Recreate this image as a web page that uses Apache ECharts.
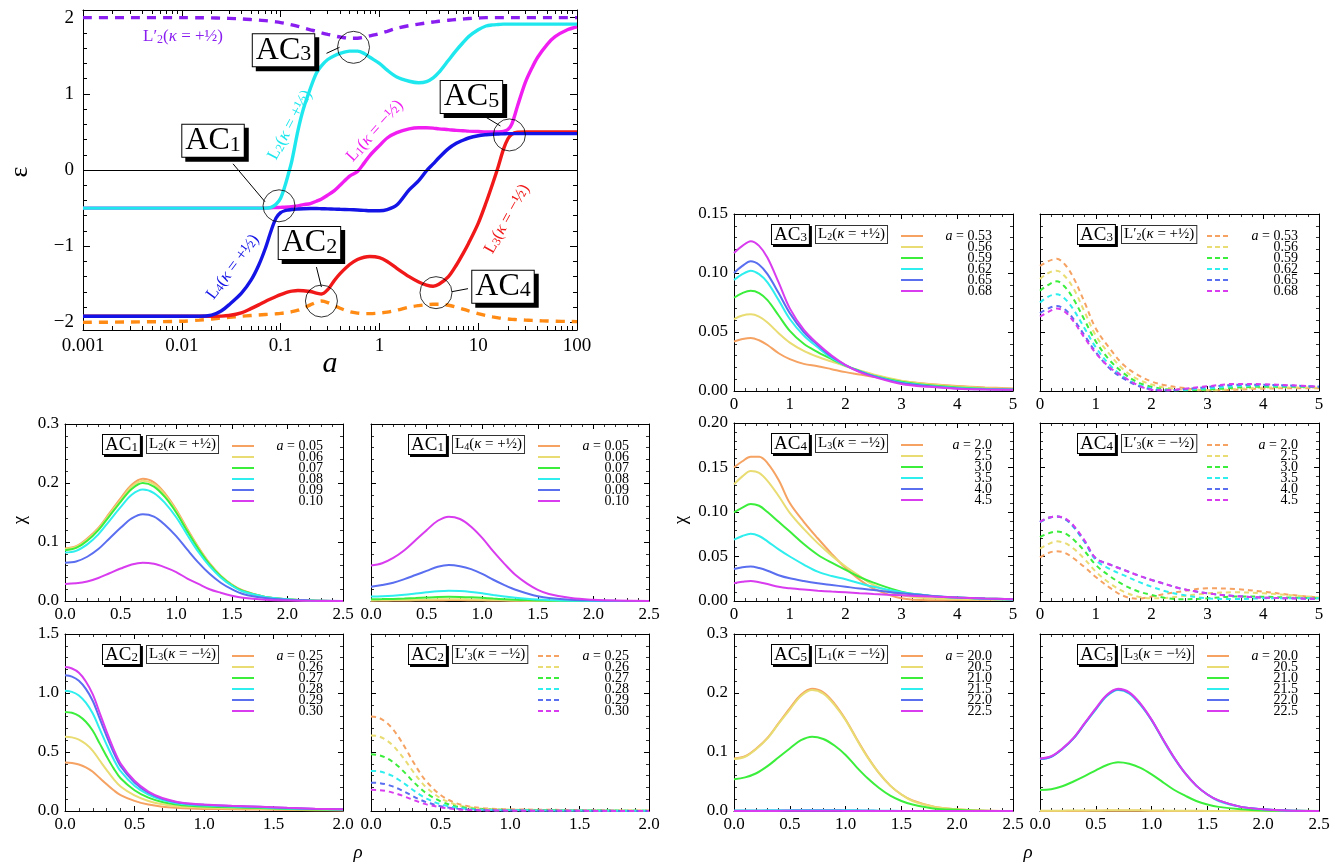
<!DOCTYPE html>
<html><head><meta charset="utf-8">
<script src="https://cdn.jsdelivr.net/npm/echarts@6/dist/echarts.min.js"></script>
<style>html,body{margin:0;padding:0;background:#fff}#c{width:1343px;height:863px}</style>
</head><body><div id="c"></div>
<script>
const SERIF = "'Liberation Serif','DejaVu Serif','Times New Roman',serif";

// ---------------- main plot data ----------------
const A_VALUES = [0.001,0.003,0.01,0.015,0.02,0.025,0.03,0.04,0.05,0.06,0.07,0.08,0.09,0.1,0.11,0.12,0.13,0.15,0.17,0.2,0.23,0.26,0.3,0.35,0.4,0.5,0.6,0.7,0.8,1.0,1.2,1.5,2,2.5,3,3.5,4,5,6,7,8,10,12,14,16,18,20,22,25,30,35,40,50,60,80,100];
const EPS_L2 = [-0.5,-0.5,-0.5,-0.5,-0.5,-0.5,-0.5,-0.5,-0.5,-0.5,-0.5,-0.49,-0.45,-0.37,-0.22,-0.05,0.12,0.52,0.80,1.07,1.27,1.37,1.45,1.50,1.53,1.56,1.56,1.53,1.48,1.40,1.31,1.22,1.165,1.145,1.16,1.21,1.28,1.44,1.57,1.67,1.75,1.84,1.89,1.905,1.91,1.915,1.915,1.915,1.915,1.915,1.915,1.915,1.915,1.915,1.915,1.915];
const EPS_L1 = [-0.5,-0.5,-0.5,-0.5,-0.5,-0.5,-0.5,-0.5,-0.5,-0.5,-0.5,-0.495,-0.493,-0.49,-0.488,-0.485,-0.48,-0.47,-0.455,-0.44,-0.41,-0.38,-0.33,-0.27,-0.2,-0.08,-0.02,0.09,0.19,0.32,0.42,0.49,0.54,0.555,0.555,0.55,0.54,0.53,0.52,0.515,0.51,0.505,0.50,0.50,0.50,0.505,0.53,0.61,0.84,1.15,1.34,1.48,1.65,1.75,1.84,1.88];
const EPS_L4 = [-1.92,-1.92,-1.92,-1.92,-1.905,-1.85,-1.77,-1.62,-1.45,-1.25,-1.03,-0.80,-0.63,-0.56,-0.535,-0.525,-0.518,-0.512,-0.508,-0.506,-0.506,-0.508,-0.51,-0.513,-0.516,-0.52,-0.525,-0.53,-0.535,-0.535,-0.52,-0.46,-0.26,-0.14,-0.01,0.08,0.16,0.28,0.35,0.39,0.42,0.45,0.463,0.47,0.473,0.475,0.478,0.478,0.478,0.478,0.478,0.478,0.478,0.478,0.478,0.478];
const EPS_L3 = [-1.92,-1.92,-1.92,-1.92,-1.92,-1.918,-1.91,-1.875,-1.82,-1.77,-1.725,-1.69,-1.66,-1.635,-1.615,-1.60,-1.59,-1.582,-1.585,-1.595,-1.615,-1.628,-1.57,-1.45,-1.36,-1.24,-1.175,-1.145,-1.135,-1.15,-1.20,-1.29,-1.40,-1.47,-1.51,-1.525,-1.50,-1.40,-1.25,-1.10,-0.96,-0.70,-0.43,-0.18,0.05,0.27,0.41,0.47,0.495,0.50,0.50,0.50,0.50,0.50,0.50,0.50];
const EPS_L3P = [-2.0,-1.995,-1.985,-1.97,-1.955,-1.942,-1.933,-1.92,-1.91,-1.903,-1.897,-1.892,-1.887,-1.882,-1.876,-1.868,-1.86,-1.84,-1.815,-1.77,-1.735,-1.72,-1.74,-1.78,-1.815,-1.86,-1.878,-1.885,-1.885,-1.877,-1.865,-1.84,-1.80,-1.78,-1.768,-1.762,-1.762,-1.775,-1.80,-1.825,-1.848,-1.885,-1.91,-1.928,-1.94,-1.948,-1.955,-1.96,-1.965,-1.97,-1.974,-1.977,-1.982,-1.985,-1.988,-1.99];
const EPS_L2P = [2.0,2.0,2.0,1.998,1.996,1.993,1.99,1.983,1.975,1.968,1.96,1.952,1.944,1.935,1.925,1.915,1.905,1.885,1.865,1.84,1.82,1.80,1.78,1.76,1.745,1.73,1.73,1.742,1.76,1.79,1.82,1.86,1.895,1.915,1.93,1.942,1.952,1.965,1.975,1.982,1.988,1.995,2.0,2.0,2.0,2.0,2.0,2.0,2.0,2.0,2.0,2.0,2.0,2.0,2.0,2.0];
const MAIN_X_TICKS = [0.001,0.01,0.1,1,10,100];
const MAIN_X_LABELS = ['0.001','0.01','0.1','1','10','100'];
const MAIN_Y_TICKS = [-2,-1,0,1,2];
const MAIN_Y_LABELS = ['\u22122','\u22121','0','1','2'];
const AC_NAMES = ['1','2','3','4','5'];
const AC_POINTS = [[0.0964,-0.47],[0.259,-1.72],[0.547,1.61],[3.74,-1.61],[20.7,0.46]];

// ---------------- panel data ----------------
const RHO_A = [0,0.1,0.2,0.3,0.4,0.5,0.6,0.7,0.8,0.9,1.0,1.1,1.2,1.3,1.4,1.5,1.6,1.8,2.0,2.2,2.5];
const RHO_C = [0,0.05,0.1,0.15,0.2,0.25,0.3,0.35,0.4,0.5,0.6,0.7,0.8,0.9,1.0,1.2,1.4,1.6,1.8,2.0];
const RHO_E = [0,0.15,0.3,0.45,0.6,0.8,1.0,1.25,1.5,1.75,2.0,2.25,2.5,3.0,3.5,4.0,4.5,5.0];

const A_AC1 = ['0.05','0.06','0.07','0.08','0.09','0.10'];
const A_AC2 = ['0.25','0.26','0.27','0.28','0.29','0.30'];
const A_AC3 = ['0.53','0.56','0.59','0.62','0.65','0.68'];
const A_AC4 = ['2.0','2.5','3.0','3.5','4.0','4.5'];
const A_AC5 = ['20.0','20.5','21.0','21.5','22.0','22.5'];

const CHI_AC1_L2 = [
 [0.089,0.093,0.106,0.124,0.149,0.174,0.197,0.207,0.201,0.182,0.155,0.122,0.091,0.064,0.043,0.028,0.018,0.007,0.003,0.001,0.0002],
 [0.088,0.092,0.104,0.122,0.147,0.171,0.194,0.204,0.198,0.180,0.153,0.120,0.090,0.063,0.043,0.028,0.017,0.007,0.003,0.001,0.0002],
 [0.086,0.090,0.102,0.120,0.144,0.168,0.190,0.200,0.194,0.176,0.150,0.118,0.088,0.062,0.042,0.027,0.017,0.007,0.003,0.001,0.0002],
 [0.082,0.085,0.096,0.113,0.136,0.159,0.180,0.189,0.183,0.166,0.142,0.112,0.083,0.059,0.040,0.026,0.016,0.007,0.003,0.001,0.0002],
 [0.065,0.067,0.075,0.088,0.106,0.124,0.140,0.147,0.143,0.129,0.110,0.087,0.065,0.046,0.031,0.020,0.012,0.005,0.002,0.001,0.0001],
 [0.029,0.030,0.033,0.039,0.047,0.055,0.062,0.065,0.063,0.057,0.049,0.038,0.029,0.020,0.014,0.009,0.0055,0.0023,0.0009,0.0003,0.0001]
];
const CHI_AC1_L4 = [
 [0.0006,0.0007,0.0008,0.0009,0.0011,0.0013,0.0014,0.0015,0.0015,0.0013,0.0011,0.0009,0.0007,0.0005,0.0003,0.0002,0.0001,0.0001,0,0,0],
 [0.0013,0.0014,0.0015,0.0018,0.0022,0.0025,0.0029,0.003,0.0029,0.0026,0.0023,0.0018,0.0013,0.0009,0.0006,0.0004,0.0003,0.0001,0,0,0],
 [0.003,0.0032,0.0036,0.0042,0.005,0.0059,0.0067,0.007,0.0068,0.0062,0.0053,0.0041,0.0031,0.0022,0.0015,0.0009,0.0006,0.0002,0.0001,0,0],
 [0.0075,0.0079,0.0089,0.0105,0.0126,0.0147,0.0166,0.0175,0.0170,0.0154,0.0131,0.0103,0.0077,0.0054,0.0037,0.0024,0.0015,0.0006,0.0002,0.0001,0],
 [0.024,0.027,0.031,0.037,0.044,0.051,0.058,0.061,0.059,0.054,0.046,0.036,0.027,0.019,0.013,0.008,0.005,0.002,0.0009,0.0003,0],
 [0.060,0.064,0.073,0.086,0.103,0.120,0.136,0.143,0.139,0.126,0.107,0.084,0.063,0.044,0.030,0.019,0.012,0.005,0.002,0.0007,0.0001]
];
const CHI_AC2_L3 = [
 [0.410,0.406,0.394,0.369,0.332,0.279,0.226,0.176,0.135,0.086,0.055,0.037,0.027,0.021,0.018,0.015,0.012,0.009,0.007,0.005],
 [0.630,0.624,0.605,0.567,0.510,0.428,0.347,0.271,0.208,0.132,0.085,0.057,0.041,0.033,0.028,0.023,0.019,0.014,0.010,0.008],
 [0.840,0.832,0.806,0.756,0.680,0.571,0.462,0.361,0.277,0.176,0.113,0.076,0.055,0.044,0.038,0.031,0.025,0.018,0.013,0.010],
 [1.020,1.010,0.979,0.918,0.826,0.694,0.561,0.439,0.337,0.214,0.138,0.092,0.066,0.053,0.046,0.038,0.031,0.022,0.016,0.012],
 [1.150,1.139,1.104,1.035,0.932,0.782,0.633,0.495,0.380,0.242,0.155,0.104,0.075,0.060,0.052,0.043,0.035,0.025,0.018,0.014],
 [1.220,1.208,1.171,1.098,0.988,0.830,0.671,0.525,0.403,0.256,0.165,0.110,0.079,0.063,0.055,0.045,0.037,0.027,0.020,0.015]
];
const CHI_AC2_L3P = [
 [0.800,0.792,0.760,0.704,0.624,0.528,0.424,0.328,0.248,0.136,0.072,0.040,0.024,0.018,0.014,0.011,0.009,0.006,0.005,0.004],
 [0.640,0.634,0.608,0.563,0.499,0.422,0.339,0.262,0.198,0.109,0.058,0.032,0.019,0.014,0.012,0.009,0.007,0.005,0.004,0.003],
 [0.480,0.475,0.456,0.422,0.374,0.317,0.254,0.197,0.149,0.082,0.043,0.024,0.014,0.011,0.009,0.007,0.005,0.004,0.003,0.002],
 [0.340,0.337,0.323,0.299,0.265,0.224,0.180,0.139,0.105,0.058,0.031,0.017,0.010,0.007,0.006,0.005,0.004,0.003,0.002,0.002],
 [0.240,0.238,0.228,0.211,0.187,0.158,0.127,0.098,0.074,0.041,0.022,0.012,0.007,0.005,0.004,0.003,0.003,0.002,0.001,0.001],
 [0.180,0.178,0.171,0.158,0.140,0.119,0.095,0.074,0.056,0.031,0.016,0.009,0.005,0.004,0.003,0.003,0.002,0.001,0.001,0.001]
];
const CHI_AC3_L2 = [
 [0.042,0.044,0.045,0.043,0.039,0.032,0.027,0.023,0.021,0.0185,0.016,0.014,0.012,0.0085,0.006,0.0042,0.003,0.0022],
 [0.061,0.064,0.065,0.063,0.058,0.049,0.041,0.034,0.029,0.025,0.021,0.0175,0.014,0.0088,0.0057,0.0038,0.0026,0.002],
 [0.079,0.083,0.085,0.083,0.077,0.064,0.051,0.040,0.033,0.027,0.0215,0.017,0.013,0.0078,0.0048,0.003,0.002,0.0015],
 [0.094,0.099,0.102,0.099,0.092,0.077,0.061,0.047,0.037,0.028,0.0215,0.0168,0.0128,0.0072,0.0043,0.0026,0.0018,0.0013],
 [0.100,0.106,0.110,0.107,0.099,0.083,0.066,0.050,0.039,0.029,0.022,0.0165,0.0125,0.0067,0.004,0.0022,0.0014,0.001],
 [0.117,0.123,0.127,0.123,0.113,0.092,0.070,0.052,0.040,0.030,0.022,0.016,0.012,0.006,0.0035,0.002,0.0013,0.001]
];
const CHI_AC3_L2P = [
 [0.106,0.110,0.112,0.107,0.096,0.075,0.053,0.036,0.022,0.0136,0.008,0.0048,0.003,0.0006,0.0011,0.002,0.0023,0.0023],
 [0.095,0.100,0.102,0.097,0.087,0.067,0.047,0.031,0.018,0.010,0.0055,0.0028,0.0014,0.0006,0.0018,0.0028,0.003,0.0028],
 [0.085,0.090,0.093,0.088,0.078,0.060,0.042,0.026,0.015,0.0075,0.0036,0.0014,0.0006,0.0012,0.0028,0.0036,0.0036,0.0032],
 [0.075,0.080,0.082,0.078,0.069,0.053,0.037,0.022,0.012,0.0055,0.0022,0.0006,0.0008,0.0022,0.0042,0.0046,0.0042,0.0035],
 [0.066,0.070,0.072,0.069,0.061,0.047,0.033,0.019,0.0105,0.0045,0.0013,0.0006,0.0012,0.0034,0.0052,0.0052,0.0046,0.0037],
 [0.063,0.067,0.070,0.067,0.059,0.045,0.032,0.020,0.012,0.005,0.001,0.0006,0.0015,0.004,0.006,0.0057,0.0048,0.0037]
];
const CHI_AC4_L3 = [
 [0.150,0.157,0.162,0.162,0.155,0.136,0.110,0.089,0.0705,0.053,0.037,0.024,0.014,0.003,0.0008,0.001,0.0013,0.0015],
 [0.131,0.140,0.146,0.144,0.135,0.118,0.099,0.081,0.065,0.051,0.0387,0.028,0.018,0.0068,0.003,0.0019,0.0017,0.0017],
 [0.0995,0.105,0.109,0.107,0.100,0.089,0.078,0.064,0.052,0.043,0.035,0.027,0.0206,0.0105,0.006,0.0038,0.0027,0.002],
 [0.069,0.073,0.0755,0.073,0.067,0.058,0.050,0.041,0.033,0.028,0.0244,0.020,0.016,0.0098,0.006,0.0038,0.0024,0.0015],
 [0.036,0.038,0.0387,0.037,0.034,0.029,0.0255,0.0225,0.020,0.018,0.016,0.014,0.0124,0.0086,0.006,0.004,0.0028,0.002],
 [0.020,0.0215,0.0225,0.021,0.019,0.016,0.0143,0.0128,0.0116,0.0106,0.0098,0.0088,0.0079,0.0064,0.005,0.0038,0.0028,0.002]
];
const CHI_AC4_L3P = [
 [0.049,0.054,0.056,0.054,0.048,0.038,0.027,0.015,0.0056,0.0025,0.005,0.008,0.0105,0.0143,0.0135,0.0105,0.0068,0.004],
 [0.059,0.064,0.067,0.065,0.059,0.047,0.033,0.020,0.0105,0.005,0.003,0.0035,0.005,0.0086,0.0098,0.0086,0.0065,0.004],
 [0.0717,0.076,0.078,0.076,0.069,0.056,0.0405,0.028,0.018,0.011,0.0068,0.0035,0.0019,0.003,0.005,0.0048,0.0038,0.003],
 [0.0885,0.093,0.095,0.092,0.083,0.066,0.046,0.036,0.029,0.022,0.016,0.011,0.0075,0.003,0.0022,0.003,0.003,0.003],
 [0.089,0.0935,0.095,0.092,0.084,0.067,0.048,0.041,0.035,0.029,0.0236,0.019,0.0143,0.0086,0.0056,0.0038,0.003,0.0023],
 [0.089,0.0935,0.095,0.093,0.085,0.068,0.048,0.041,0.035,0.029,0.0236,0.019,0.0143,0.0086,0.0056,0.0038,0.003,0.0023]
];
const CHI_AC5_L1 = [
 [0.089,0.093,0.106,0.124,0.149,0.174,0.197,0.207,0.201,0.182,0.155,0.122,0.091,0.064,0.043,0.028,0.018,0.007,0.003,0.001,0.0002],
 [0.088,0.092,0.105,0.123,0.148,0.172,0.195,0.205,0.199,0.180,0.154,0.121,0.090,0.064,0.043,0.028,0.017,0.007,0.003,0.001,0.0002],
 [0.054,0.057,0.064,0.076,0.091,0.106,0.120,0.126,0.122,0.111,0.095,0.074,0.055,0.039,0.026,0.017,0.011,0.004,0.002,0.0006,0.0001],
 [0.0008,0.0008,0.0009,0.0011,0.0013,0.0015,0.0017,0.0018,0.0017,0.0016,0.0014,0.0011,0.0008,0.0006,0.0004,0.0002,0.0002,0.0001,0,0,0],
 [0.0003,0.0003,0.0003,0.0004,0.0004,0.0005,0.0006,0.0006,0.0006,0.0005,0.0005,0.0004,0.0003,0.0002,0.0001,0.0001,0,0,0,0,0],
 [0.0001,0.0001,0.0002,0.0002,0.0002,0.0003,0.0003,0.0003,0.0003,0.0003,0.0002,0.0002,0.0001,0.0001,0.0001,0,0,0,0,0,0]
];
const CHI_AC5_L3 = [
 [0.0001,0.0001,0.0002,0.0002,0.0002,0.0003,0.0003,0.0003,0.0003,0.0003,0.0002,0.0002,0.0001,0.0001,0.0001,0,0,0,0,0,0],
 [0.0005,0.0005,0.0006,0.0007,0.0009,0.001,0.0011,0.0012,0.0012,0.0011,0.0009,0.0007,0.0005,0.0004,0.0003,0.0002,0.0001,0,0,0,0],
 [0.0356,0.037,0.042,0.050,0.059,0.069,0.078,0.0825,0.080,0.073,0.062,0.049,0.036,0.026,0.017,0.011,0.007,0.003,0.001,0.0004,0.0001],
 [0.088,0.092,0.105,0.123,0.148,0.172,0.195,0.205,0.199,0.180,0.154,0.121,0.090,0.064,0.043,0.028,0.017,0.007,0.003,0.001,0.0002],
 [0.088,0.092,0.105,0.123,0.148,0.173,0.196,0.206,0.200,0.181,0.154,0.122,0.091,0.064,0.043,0.028,0.018,0.007,0.003,0.001,0.0002],
 [0.089,0.093,0.106,0.124,0.149,0.174,0.197,0.207,0.201,0.182,0.155,0.122,0.091,0.064,0.043,0.028,0.018,0.007,0.003,0.001,0.0002]
];

// ---------------- styling / layout ----------------
const PAL = ['#f5a262','#e8dc72','#3cee3c','#2eeeee','#5a6ef0','#d83cee'];
const MAIN_COL = {L1:'#f01ef0', L2:'#1ee8ee', L3:'#f01818', L4:'#1414e6', L2P:'#8a1ef0', L3P:'#ff8a14'};
const GRIDS = [
 {left:83, top:10, width:494, height:320},
 {left:65, top:424, width:278, height:177},
 {left:371, top:424, width:278, height:177},
 {left:65, top:634, width:278, height:177},
 {left:371, top:634, width:278, height:177},
 {left:734, top:214, width:279, height:177},
 {left:1040, top:214, width:279, height:177},
 {left:734, top:423, width:279, height:178},
 {left:1040, top:423, width:279, height:178},
 {left:734, top:634, width:279, height:177},
 {left:1040, top:634, width:279, height:177}
];
const PANELS = [
 {g:1, rho:RHO_A, chi:CHI_AC1_L2, al:A_AC1, ac:'1', L:'L', sub:'2', sign:'+', dashed:false, xmax:2.5, xint:0.5, xdec:1, ymax:0.3, yint:0.1, ydec:1, ylab:true},
 {g:2, rho:RHO_A, chi:CHI_AC1_L4, al:A_AC1, ac:'1', L:'L', sub:'4', sign:'+', dashed:false, xmax:2.5, xint:0.5, xdec:1, ymax:0.3, yint:0.1, ydec:1, ylab:false},
 {g:3, rho:RHO_C, chi:CHI_AC2_L3, al:A_AC2, ac:'2', L:'L', sub:'3', sign:'\u2212', dashed:false, xmax:2.0, xint:0.5, xdec:1, ymax:1.5, yint:0.5, ydec:1, ylab:true},
 {g:4, rho:RHO_C, chi:CHI_AC2_L3P, al:A_AC2, ac:'2', L:'L\u2032', sub:'3', sign:'\u2212', dashed:true, xmax:2.0, xint:0.5, xdec:1, ymax:1.5, yint:0.5, ydec:1, ylab:false},
 {g:5, rho:RHO_E, chi:CHI_AC3_L2, al:A_AC3, ac:'3', L:'L', sub:'2', sign:'+', dashed:false, xmax:5, xint:1, xdec:0, ymax:0.15, yint:0.05, ydec:2, ylab:true},
 {g:6, rho:RHO_E, chi:CHI_AC3_L2P, al:A_AC3, ac:'3', L:'L\u2032', sub:'2', sign:'+', dashed:true, xmax:5, xint:1, xdec:0, ymax:0.15, yint:0.05, ydec:2, ylab:false},
 {g:7, rho:RHO_E, chi:CHI_AC4_L3, al:A_AC4, ac:'4', L:'L', sub:'3', sign:'\u2212', dashed:false, xmax:5, xint:1, xdec:0, ymax:0.2, yint:0.05, ydec:2, ylab:true},
 {g:8, rho:RHO_E, chi:CHI_AC4_L3P, al:A_AC4, ac:'4', L:'L\u2032', sub:'3', sign:'\u2212', dashed:true, xmax:5, xint:1, xdec:0, ymax:0.2, yint:0.05, ydec:2, ylab:false},
 {g:9, rho:RHO_A, chi:CHI_AC5_L1, al:A_AC5, ac:'5', L:'L', sub:'1', sign:'\u2212', dashed:false, xmax:2.5, xint:0.5, xdec:1, ymax:0.3, yint:0.1, ydec:1, ylab:true},
 {g:10, rho:RHO_A, chi:CHI_AC5_L3, al:A_AC5, ac:'5', L:'L', sub:'3', sign:'\u2212', dashed:false, xmax:2.5, xint:0.5, xdec:1, ymax:0.3, yint:0.1, ydec:1, ylab:false}
];

const AXLINE = {show:true, onZero:false, lineStyle:{color:'#000', width:1}};
const NOLINE = {show:false, onZero:false};
const xAxes = [], yAxes = [], series = [];

// main axes (log x)
const MINOR_X = [];
for (let e = -3; e < 2; e++) for (let k = 2; k <= 9; k++) MINOR_X.push(+(k * Math.pow(10, e)).toPrecision(3));
const MINOR_Y = [];
for (let v = -2; v < 2; v += 1) for (let k = 1; k <= 4; k++) MINOR_Y.push(+(v + 0.2 * k).toFixed(1));

function logX(pos, labels, ticks, len) {
  return {type:'log', logBase:10, gridIndex:0, min:0.001, max:100, position:pos,
    axisLine: ticks === MAIN_X_TICKS ? AXLINE : NOLINE,
    axisTick:{show:true, inside:true, length:len, customValues:ticks, lineStyle:{color:'#000', width:1}},
    minorTick:{show:false}, splitLine:{show:false},
    axisLabel:{show:labels, customValues:MAIN_X_TICKS, margin:7, fontSize:19, fontFamily:SERIF, color:'#000',
      formatter: v => MAIN_X_LABELS[Math.round(Math.log10(v)) + 3]}};
}
function linY(pos, labels, ticks, len) {
  return {type:'value', gridIndex:0, min:-2.1, max:2.1, position:pos,
    axisLine: ticks === MAIN_Y_TICKS ? AXLINE : NOLINE,
    axisTick:{show:true, inside:true, length:len, customValues:ticks, lineStyle:{color:'#000', width:1}},
    minorTick:{show:false}, splitLine:{show:false},
    axisLabel:{show:labels, customValues:MAIN_Y_TICKS, margin:9, fontSize:19, fontFamily:SERIF, color:'#000',
      formatter: v => MAIN_Y_LABELS[Math.round(v) + 2]}};
}
xAxes.push(logX('bottom', true, MAIN_X_TICKS, 7), logX('top', false, MAIN_X_TICKS, 7), logX('bottom', false, MINOR_X, 4), logX('top', false, MINOR_X, 4));
yAxes.push(linY('left', true, MAIN_Y_TICKS, 7), linY('right', false, MAIN_Y_TICKS, 7), linY('left', false, MINOR_Y, 4), linY('right', false, MINOR_Y, 4));

function panelAxis(gi, pos, max, interval, dec, labels) {
  return {type:'value', gridIndex:gi, min:0, max:max, interval:interval, position:pos,
    axisLine:AXLINE,
    axisTick:{show:true, inside:true, length:5, lineStyle:{color:'#000', width:1}},
    minorTick:{show:true, splitNumber:5, length:3, lineStyle:{color:'#000', width:0.8}},
    splitLine:{show:false}, minorSplitLine:{show:false},
    axisLabel:{show:labels, showMinLabel:true, showMaxLabel:true, margin:(pos==='bottom'?5:6), fontSize:17, fontFamily:SERIF, color:'#000',
      formatter: v => v.toFixed(dec)}};
}
const panelAxisIdx = [];
PANELS.forEach(p => {
  panelAxisIdx.push([xAxes.length, yAxes.length]);
  xAxes.push(panelAxis(p.g, 'bottom', p.xmax, p.xint, p.xdec, true), panelAxis(p.g, 'top', p.xmax, p.xint, p.xdec, false));
  yAxes.push(panelAxis(p.g, 'left', p.ymax, p.yint, p.ydec, p.ylab), panelAxis(p.g, 'right', p.ymax, p.yint, p.ydec, false));
});

// main series
function mainLine(name, vals, color, dashed, extra) {
  return Object.assign({type:'line', name, xAxisIndex:0, yAxisIndex:0, silent:true, animation:false,
    data: A_VALUES.map((a, i) => [a, vals[i]]), smooth:0.3, symbol:'none',
    lineStyle:{color, width:3.4, type: dashed ? [9, 7] : 'solid', cap:'butt'}}, extra || {});
}
series.push(mainLine('L3p', EPS_L3P, MAIN_COL.L3P, true, {markLine:{silent:true, symbol:'none', animation:false,
  label:{show:false}, lineStyle:{color:'#000', width:1.2, type:'solid'}, data:[{yAxis:0}]}}));
series.push(mainLine('L2p', EPS_L2P, MAIN_COL.L2P, true));
series.push(mainLine('L1', EPS_L1, MAIN_COL.L1, false));
series.push(mainLine('L2', EPS_L2, MAIN_COL.L2, false));
series.push(mainLine('L3', EPS_L3, MAIN_COL.L3, false));
series.push(mainLine('L4', EPS_L4, MAIN_COL.L4, false));
series.push({type:'scatter', xAxisIndex:0, yAxisIndex:0, silent:true, animation:false, symbol:'circle', symbolSize:32,
  data: AC_POINTS, itemStyle:{color:'rgba(0,0,0,0)', borderColor:'#000', borderWidth:1}, z:5});

// panel series
PANELS.forEach((p, k) => {
  p.chi.forEach((vals, j) => {
    series.push({type:'line', xAxisIndex:panelAxisIdx[k][0], yAxisIndex:panelAxisIdx[k][1], silent:true, animation:false,
      data: p.rho.map((r, i) => [r, vals[i]]), smooth:0.35, symbol:'none', clip:true,
      lineStyle:{color:PAL[j], width:2, type: p.dashed ? [5, 4] : 'solid'}});
  });
});

const chart = echarts.init(document.getElementById('c'));
chart.setOption({animation:false, backgroundColor:'#fff', grid:GRIDS, xAxis:xAxes, yAxis:yAxes, series});

// ---------------- annotations (graphic) ----------------
const G = [];
const AC_BOX = [[-66,-65],[-12,-58],[-70,3],[67,-6],[-38,-38]];
const AC_LEAD = [[-46,-42,-14,-4],[-5,-34,0,-14],[-27,6,-14,0],[32,-4,16,-1],[-24,-18,-9,-9]];
AC_POINTS.forEach((pt, i) => {
  const c = chart.convertToPixel({gridIndex:0}, pt);
  const L = AC_LEAD[i];
  G.push({type:'line', silent:true, z:50, shape:{x1:c[0]+L[0], y1:c[1]+L[1], x2:c[0]+L[2], y2:c[1]+L[3]}, style:{stroke:'#000', lineWidth:1}});
  G.push({type:'text', silent:true, z:60, x:c[0]+AC_BOX[i][0], y:c[1]+AC_BOX[i][1],
    style:{text:'{m|AC}{s|' + AC_NAMES[i] + '}', align:'center', verticalAlign:'middle',
      rich:{m:{fontSize:32, fontFamily:SERIF, fill:'#000', lineHeight:30}, s:{fontSize:22, fontFamily:SERIF, fill:'#000', verticalAlign:'bottom', lineHeight:12}},
      backgroundColor:'#fff', borderColor:'#000', borderWidth:1, padding:[1,3,1,3],
      shadowColor:'#000', shadowOffsetX:4, shadowOffsetY:4, shadowBlur:0}});
});
function kappaLabel(Lstr, sub, sign, color, size) {
  return {text:'{n|' + Lstr + '}{s|' + sub + '}{n|(}{i|\u03ba}{n| = ' + sign + '\u00bd)}',
    rich:{n:{fontSize:size, fontFamily:SERIF, fill:color}, i:{fontSize:size, fontFamily:SERIF, fontStyle:'italic', fill:color},
      s:{fontSize:Math.round(size*0.68), fontFamily:SERIF, fill:color, verticalAlign:'bottom', lineHeight:Math.round(size*0.55)}}};
}
const CURVE_LABELS = [
 {L:'L\u2032', sub:'2', sign:'+', col:MAIN_COL.L2P, x:183, y:37, rot:0},
 {L:'L', sub:'2', sign:'+', col:MAIN_COL.L2, x:290, y:125, rot:62},
 {L:'L', sub:'1', sign:'\u2212', col:MAIN_COL.L1, x:375, y:131, rot:48},
 {L:'L', sub:'4', sign:'+', col:MAIN_COL.L4, x:233, y:267, rot:53},
 {L:'L', sub:'3', sign:'\u2212', col:MAIN_COL.L3, x:507, y:219, rot:61}
];
CURVE_LABELS.forEach(c => {
  G.push({type:'text', silent:true, z:40, x:c.x, y:c.y, rotation:c.rot*Math.PI/180,
    style:Object.assign(kappaLabel(c.L, c.sub, c.sign, c.col, 17), {align:'center', verticalAlign:'middle'})});
});
// axis names
G.push({type:'text', silent:true, x:330, y:364, style:{text:'a', font:'italic 30px ' + SERIF, fill:'#000', align:'center', verticalAlign:'middle'}});
G.push({type:'text', silent:true, x:20, y:172, rotation:Math.PI/2, style:{text:'\u03b5', font:'26px ' + SERIF, fill:'#000', align:'center', verticalAlign:'middle'}});
G.push({type:'text', silent:true, x:20, y:520, rotation:Math.PI/2, style:{text:'\u03c7', font:'19px ' + SERIF, fill:'#000', align:'center', verticalAlign:'middle'}});
G.push({type:'text', silent:true, x:681, y:520, rotation:Math.PI/2, style:{text:'\u03c7', font:'19px ' + SERIF, fill:'#000', align:'center', verticalAlign:'middle'}});
G.push({type:'text', silent:true, x:358, y:853, style:{text:'\u03c1', font:'italic 19px ' + SERIF, fill:'#000', align:'center', verticalAlign:'middle'}});
G.push({type:'text', silent:true, x:1028, y:853, style:{text:'\u03c1', font:'italic 19px ' + SERIF, fill:'#000', align:'center', verticalAlign:'middle'}});

// panel annotations + legends
PANELS.forEach(p => {
  const gr = GRIDS[p.g];
  const L0 = gr.left, T0 = gr.top;
  G.push({type:'text', silent:true, z:60, x:L0+38, y:T0+11,
    style:{text:'{m|AC}{s|' + p.ac + '}', align:'left', verticalAlign:'top',
      rich:{m:{fontSize:19, fontFamily:SERIF, fill:'#000', lineHeight:18}, s:{fontSize:13, fontFamily:SERIF, fill:'#000', verticalAlign:'bottom', lineHeight:8}},
      backgroundColor:'#fff', borderColor:'#000', borderWidth:1, padding:[1,2,0,2],
      shadowColor:'#000', shadowOffsetX:2, shadowOffsetY:2, shadowBlur:0}});
  G.push({type:'text', silent:true, z:60, x:L0+82, y:T0+12,
    style:Object.assign(kappaLabel(p.L, p.sub, p.sign, '#000', 15), {align:'left', verticalAlign:'top',
      backgroundColor:'#fff', borderColor:'#333', borderWidth:1, padding:[1,2,1,2]})});
  p.al.forEach((lab, j) => {
    const yy = T0 + 22 + 11 * j;
    G.push({type:'line', silent:true, z:60, shape:{x1:L0+167, y1:yy, x2:L0+189, y2:yy},
      style:{stroke:PAL[j], lineWidth:2, lineDash: p.dashed ? [5,3] : null}});
    G.push({type:'text', silent:true, z:60, x:L0+258, y:yy,
      style:{text: j === 0 ? '{i|a}{n| = ' + lab + '}' : '{n|' + lab + '}', align:'right', verticalAlign:'middle',
        rich:{n:{fontSize:14, fontFamily:SERIF, fill:'#000'}, i:{fontSize:14, fontFamily:SERIF, fontStyle:'italic', fill:'#000'}}}});
  });
});
chart.setOption({graphic:G});
</script>
</body></html>
